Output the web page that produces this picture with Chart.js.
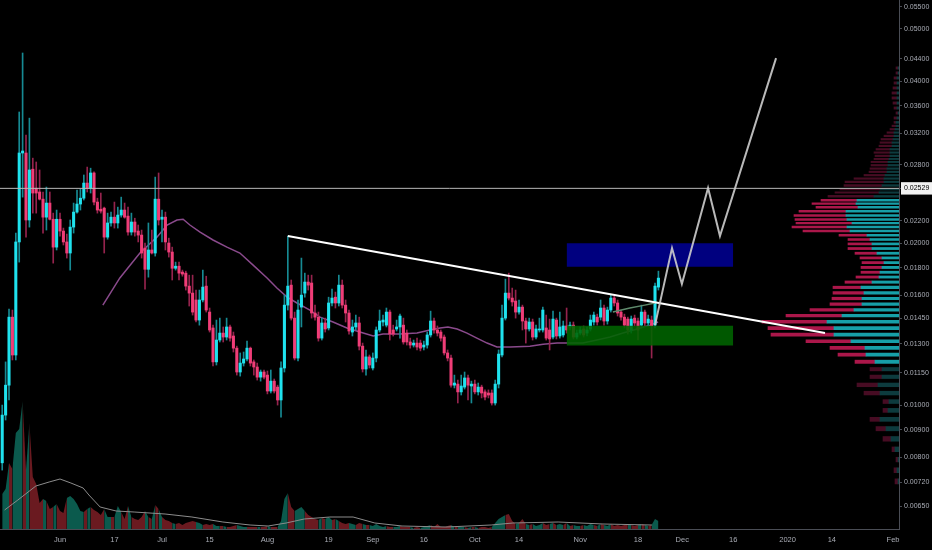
<!DOCTYPE html>
<html>
<head>
<meta charset="utf-8">
<script src="https://cdn.jsdelivr.net/npm/chart.js@4/dist/chart.umd.min.js"></script>
<style>
  html, body { margin: 0; padding: 0; background: #000; }
  #wrap { width: 932px; height: 550px; }
</style>
</head>
<body>
<div id="wrap"><canvas id="chart" width="932" height="550"></canvas></div>
<script>
const ctx = document.getElementById("chart");

// daily candles, first one on 2019-05-15
const firstCandleDate = '2019-05-15';
const opens = [
  0.00782,0.00959,0.01090,0.01458,0.01240,0.02011,0.02942,0.02942,0.02209,0.02745,
  0.02531,0.02490,0.02415,0.02236,0.02375,0.02216,0.01967,0.02216,0.02107,0.02011,
  0.01918,0.02143,0.02285,0.02365,0.02425,0.02587,0.02531,0.02701,0.02385,0.02313,
  0.02324,0.02053,0.02181,0.02236,0.02181,0.02256,0.02305,0.02246,0.02098,0.02190,
  0.02107,0.02071,0.01959,0.01789,0.01943,0.01918,0.02415,0.02216,0.02236,0.02002,
  0.01926,0.01797,0.01813,0.01768,0.01760,0.01665,0.01616,0.01569,0.01440,0.01569,
  0.01665,0.01490,0.01392,0.01204,0.01322,0.01362,0.01339,0.01398,0.01345,0.01277,
  0.01153,0.01198,0.01219,0.01277,0.01204,0.01178,0.01128,0.01153,0.01138,0.01063,
  0.01109,0.01081,0.01023,0.01173,0.01535,0.01672,0.01452,0.01224,0.01522,0.01616,
  0.01694,0.01687,0.01484,0.01458,0.01333,0.01422,0.01392,0.01549,0.01588,0.01549,
  0.01672,0.01535,0.01484,0.01368,0.01398,0.01422,0.01288,0.01168,0.01230,0.01173,
  0.01224,0.01380,0.01428,0.01409,0.01490,0.01380,0.01386,0.01398,0.01409,0.01362,
  0.01311,0.01294,0.01305,0.01305,0.01283,0.01294,0.01351,0.01434,0.01380,0.01368,
  0.01339,0.01251,0.01224,0.01090,0.01095,0.01059,0.01081,0.01124,0.01086,0.01095,
  0.01059,0.01081,0.01059,0.01054,0.01054,0.01010,0.01095,0.01240,0.01452,0.01616,
  0.01582,0.01562,0.01490,0.01522,0.01434,0.01386,0.01428,0.01339,0.01380,0.01380,
  0.01392,0.01380,0.01339,0.01440,0.01345,0.01351,0.01404,0.01398,0.01409,0.01339,
  0.01362,0.01386,0.01362,0.01386,0.01428,0.01458,0.01458,0.01516,0.01434,0.01503,
  0.01582,0.01549,0.01490,0.01458,0.01446,0.01380,0.01452,0.01434,0.01409,0.01490,
  0.01422,0.01440,0.01409,0.01658
];
const highs = [
  0.01001,0.01204,0.01509,0.01503,0.02089,0.03506,0.04512,0.03177,0.03415,0.02878,
  0.02831,0.02736,0.02490,0.02543,0.02490,0.02275,0.02305,0.02275,0.02134,0.02080,
  0.02209,0.02375,0.02511,0.02520,0.02678,0.02770,0.02757,0.02713,0.02425,0.02479,
  0.02334,0.02275,0.02285,0.02385,0.02334,0.02436,0.02375,0.02334,0.02275,0.02226,
  0.02162,0.02116,0.02002,0.02181,0.02116,0.02654,0.02701,0.02305,0.02285,0.02044,
  0.01967,0.01845,0.01845,0.01783,0.01775,0.01745,0.01745,0.01637,0.01637,0.01783,
  0.01737,0.01516,0.01409,0.01440,0.01452,0.01398,0.01452,0.01409,0.01368,0.01288,
  0.01251,0.01256,0.01316,0.01283,0.01214,0.01198,0.01163,0.01163,0.01158,0.01163,
  0.01119,0.01090,0.01204,0.01602,0.02062,0.01709,0.01490,0.01569,0.01877,0.01760,
  0.01745,0.01745,0.01535,0.01490,0.01452,0.01452,0.01588,0.01644,0.01623,0.01745,
  0.01709,0.01569,0.01503,0.01440,0.01471,0.01458,0.01305,0.01267,0.01240,0.01251,
  0.01398,0.01503,0.01471,0.01516,0.01503,0.01409,0.01440,0.01477,0.01452,0.01380,
  0.01333,0.01322,0.01333,0.01322,0.01316,0.01368,0.01496,0.01452,0.01404,0.01380,
  0.01351,0.01267,0.01240,0.01138,0.01114,0.01138,0.01153,0.01138,0.01109,0.01114,
  0.01100,0.01090,0.01068,0.01068,0.01068,0.01114,0.01267,0.01535,0.01716,0.01760,
  0.01651,0.01637,0.01569,0.01535,0.01452,0.01452,0.01446,0.01409,0.01452,0.01522,
  0.01471,0.01446,0.01496,0.01452,0.01490,0.01434,0.01516,0.01428,0.01428,0.01380,
  0.01398,0.01404,0.01398,0.01471,0.01490,0.01477,0.01569,0.01535,0.01522,0.01602,
  0.01595,0.01569,0.01503,0.01477,0.01458,0.01465,0.01471,0.01452,0.01535,0.01503,
  0.01471,0.01465,0.01687,0.01775
];
const lows = [
  0.00758,0.00939,0.01023,0.01214,0.01214,0.01845,0.02436,0.02053,0.02143,0.02275,
  0.02275,0.02406,0.02089,0.02116,0.02209,0.01837,0.01943,0.02062,0.01985,0.01877,
  0.01783,0.02089,0.02275,0.02305,0.02406,0.02490,0.02479,0.02355,0.02275,0.02275,
  0.01918,0.02035,0.02152,0.02134,0.02134,0.02236,0.02226,0.02071,0.02071,0.02062,
  0.02011,0.01877,0.01643,0.01730,0.01910,0.01893,0.02162,0.02011,0.01943,0.01885,
  0.01709,0.01783,0.01709,0.01737,0.01637,0.01529,0.01471,0.01428,0.01409,0.01556,
  0.01490,0.01368,0.01183,0.01188,0.01311,0.01311,0.01322,0.01316,0.01256,0.01138,
  0.01133,0.01183,0.01209,0.01183,0.01138,0.01114,0.01109,0.01119,0.01050,0.01054,
  0.01054,0.01001,0.00951,0.01153,0.01503,0.01440,0.01214,0.01209,0.01398,0.01588,
  0.01637,0.01452,0.01440,0.01316,0.01322,0.01368,0.01380,0.01529,0.01516,0.01529,
  0.01516,0.01428,0.01356,0.01345,0.01380,0.01267,0.01153,0.01138,0.01173,0.01163,
  0.01204,0.01368,0.01404,0.01398,0.01322,0.01345,0.01374,0.01333,0.01299,0.01294,
  0.01277,0.01283,0.01267,0.01262,0.01267,0.01277,0.01339,0.01362,0.01345,0.01316,
  0.01240,0.01209,0.01081,0.01077,0.01010,0.01045,0.01072,0.01023,0.01010,0.01050,
  0.01045,0.01032,0.01023,0.01032,0.01001,0.01001,0.01077,0.01230,0.01440,0.01569,
  0.01529,0.01452,0.01477,0.01380,0.01305,0.01374,0.01322,0.01328,0.01368,0.01368,
  0.01322,0.01267,0.01328,0.01328,0.01333,0.01339,0.01362,0.01380,0.01328,0.01328,
  0.01351,0.01339,0.01345,0.01374,0.01409,0.01409,0.01440,0.01409,0.01415,0.01490,
  0.01529,0.01465,0.01440,0.01392,0.01356,0.01362,0.01404,0.01322,0.01392,0.01404,
  0.01404,0.01224,0.01392,0.01637
];
const closes = [
  0.00959,0.01090,0.01458,0.01240,0.02011,0.02942,0.02967,0.02209,0.02736,0.02479,
  0.02479,0.02415,0.02236,0.02375,0.02216,0.01967,0.02216,0.02107,0.02011,0.01918,
  0.02143,0.02285,0.02365,0.02425,0.02587,0.02531,0.02701,0.02385,0.02305,0.02295,
  0.02053,0.02181,0.02236,0.02181,0.02256,0.02305,0.02236,0.02098,0.02190,0.02098,
  0.02071,0.01918,0.01789,0.01943,0.01918,0.02415,0.02209,0.02236,0.02011,0.01926,
  0.01797,0.01813,0.01760,0.01753,0.01665,0.01616,0.01490,0.01440,0.01569,0.01658,
  0.01503,0.01380,0.01204,0.01322,0.01362,0.01339,0.01398,0.01333,0.01277,0.01153,
  0.01198,0.01219,0.01277,0.01198,0.01178,0.01128,0.01153,0.01128,0.01063,0.01109,
  0.01063,0.01023,0.01173,0.01535,0.01665,0.01452,0.01224,0.01503,0.01602,0.01694,
  0.01672,0.01484,0.01458,0.01333,0.01422,0.01386,0.01549,0.01582,0.01549,0.01672,
  0.01535,0.01484,0.01374,0.01398,0.01422,0.01288,0.01168,0.01230,0.01188,0.01224,
  0.01380,0.01434,0.01440,0.01490,0.01356,0.01356,0.01398,0.01465,0.01311,0.01311,
  0.01294,0.01305,0.01283,0.01277,0.01294,0.01351,0.01434,0.01380,0.01362,0.01333,
  0.01251,0.01224,0.01090,0.01100,0.01059,0.01086,0.01124,0.01090,0.01095,0.01059,
  0.01081,0.01054,0.01036,0.01045,0.01010,0.01095,0.01245,0.01452,0.01616,0.01582,
  0.01556,0.01490,0.01522,0.01434,0.01386,0.01428,0.01339,0.01386,0.01386,0.01503,
  0.01333,0.01328,0.01446,0.01345,0.01398,0.01404,0.01380,0.01409,0.01339,0.01362,
  0.01380,0.01351,0.01380,0.01440,0.01471,0.01428,0.01516,0.01434,0.01503,0.01582,
  0.01549,0.01484,0.01458,0.01409,0.01380,0.01446,0.01422,0.01380,0.01490,0.01422,
  0.01446,0.01404,0.01665,0.01723
];
// volume in millions
const volumes = [
  3.5,4.0,6.6,6.0,9.6,10.0,12.8,5.9,10.6,5.2,
  4.5,2.6,3.0,2.8,2.0,2.2,2.5,1.8,1.6,3.1,
  3.3,3.0,2.5,1.8,1.7,2.0,2.2,1.9,1.7,1.4,
  2.0,1.2,1.2,1.2,2.3,1.7,1.0,2.3,1.2,1.0,
  0.9,1.2,1.8,1.2,1.0,2.4,2.0,1.2,0.9,0.8,
  0.6,0.5,0.6,0.4,0.6,0.7,0.8,0.7,0.6,0.4,
  0.5,0.4,0.5,0.3,0.3,0.3,0.2,0.2,0.3,0.4,
  0.3,0.2,0.2,0.2,0.2,0.2,0.2,0.2,0.3,0.2,
  0.2,0.2,0.8,3.0,3.6,2.2,1.8,2.0,2.2,1.8,
  1.4,1.2,1.0,0.9,1.1,1.0,1.2,0.9,1.0,0.8,
  0.6,0.5,0.6,0.5,0.4,0.6,0.5,0.4,0.4,0.3,
  0.5,0.3,0.2,0.3,0.2,0.2,0.2,0.3,0.2,0.2,
  0.2,0.1,0.2,0.1,0.2,0.3,0.4,0.2,0.5,0.2,
  0.2,0.3,0.4,0.2,0.3,0.2,0.2,0.1,0.2,0.2,
  0.1,0.2,0.2,0.1,0.2,0.6,1.0,1.2,1.4,1.5,
  0.8,0.5,0.6,1.0,0.5,0.4,0.5,0.3,0.4,0.6,
  0.4,0.5,0.6,0.4,0.5,0.4,0.6,0.3,0.4,0.3,
  0.3,0.4,0.3,0.5,0.4,0.3,0.5,0.4,0.3,0.5,
  0.3,0.4,0.3,0.4,0.5,0.4,0.3,0.4,0.5,0.4,
  0.3,0.4,1.0,0.8
];

// moving averages, sampled (days since 2019-06-01)
const maDays = [12.6,17.6,23.5,28.5,31.5,34.4,36.2,38.2,41.2,45,49.1,52.9,56.8,60.9,63.8,66.8,69.7,73.5,76.5,80.3,84.4,88.2,92.1,95,100,105,108.8,111.8,114.1,116.8,119.7,122.6,125.6,128.5,132.4,138.2,142.1,146.2,150,153.8,157.9,161.8,165.6,169.7,173.5,175.9];
const maValues = [0.01535,0.01724,0.01918,0.02053,0.02162,0.02209,0.02216,0.02162,0.02098,0.02028,0.01967,0.01918,0.01821,0.01724,0.01651,0.01588,0.01549,0.01503,0.01458,0.01428,0.01392,0.01368,0.01345,0.01356,0.01356,0.01362,0.01380,0.01392,0.01398,0.01386,0.01362,0.01333,0.01305,0.01283,0.01283,0.01288,0.01299,0.01305,0.01305,0.01305,0.01322,0.01339,0.01362,0.01386,0.01409,0.01428];
const fastMaDays = [162.6,167.6,172,175];
const fastMaValues = [0.01490,0.01516,0.01535,0.01549];
const volMaDays = [-16.3,-12.4,-7.1,-3.2,0,3.2,6.8,8.5,11.8,16.5,21.8,30.9,38.8,47.9,55.9,61.2,66.5,71.8,79.4,86.2,92.6,100.6,113.5,126.8,133.2,146.5,159.7,174.1];
const volMaValues = [1.9,2.9,4.3,4.7,5.0,4.6,4.1,3.4,2.2,1.8,1.7,1.5,1.2,0.7,0.4,0.3,0.6,1.0,1.2,1.2,0.6,0.3,0.2,0.4,0.6,0.7,0.5,0.4];

// visible range volume profile
const profPrices = [
  0.04254,0.04166,0.04076,0.03991,0.03905,0.03824,0.03742,0.03663,0.03584,0.03510,
  0.03435,0.03363,0.03316,0.03268,0.03222,0.03177,0.03131,0.03087,0.03044,0.02999,
  0.02958,0.02917,0.02875,0.02843,0.02803,0.02761,0.02724,0.02686,0.02646,0.02610,
  0.02573,0.02528,0.02493,0.02458,0.02411,0.02378,0.02344,0.02302,0.02263,0.02223,
  0.02187,0.02155,0.02116,0.02080,0.02041,0.02005,0.01965,0.01926,0.01887,0.01851,
  0.01813,0.01775,0.01740,0.01704,0.01665,0.01628,0.01588,0.01551,0.01513,0.01477,
  0.01440,0.01401,0.01362,0.01325,0.01288,0.01251,0.01215,0.01176,0.01140,0.01101,
  0.01063,0.01026,0.00988,0.00951,0.00915,0.00877,0.00837,0.00802,0.00767,0.00731
];
const profUp = [
  1,1,2,2,2,2,2,2,2,1, 2,3,3,4,5,5,6,7,7,9, 9,9,10,11,11,12,12,14,15,15, 17,19,20,25,
  42,43,41,53,53,52,47,52,49,32,29,27,27,22,17,15,17,19,20,27,38,35,37,37,45,57,72,65,65,48,34,33,24,
  17,17,21,19,10,11,19,13,8,4,1,2,1
];
const profDown = [
  2,2,3,3,4,5,5,4,3,2, 3,2,4,5,7,10,12,12,13,14, 16,15,15,17,17,17,18,21,30,39, 38,40,44,46,
  36,44,42,47,52,52,56,55,47,28,22,24,24,22,22,22,21,19,23,27,28,31,30,32,44,56,65,66,63,45,35,28,20,
  12,12,21,16,6,5,10,10,8,3,2,3,3
];
const valueArea = [0.0121, 0.0242];

const yTicks = [0.055,0.05,0.044,0.04,0.036,0.032,0.028,0.02529,0.022,0.02,0.018,0.016,0.0145,0.013,0.0115,0.01,0.009,0.008,0.0072,0.0065];
const xTickDates = ['2019-06-01','2019-06-17','2019-07-01','2019-07-15','2019-08-01','2019-08-19','2019-09-01','2019-09-16','2019-10-01','2019-10-14','2019-11-01','2019-11-18','2019-12-01','2019-12-16','2020-01-01','2020-01-14','2020-02-01'];
const xTickLabels = ['Jun','17','Jul','15','Aug','19','Sep','16','Oct','14','Nov','18','Dec','16','2020','14','Feb'];

// drawings
const hLevel = 0.02529;
const trendDays = [67, 225];
const trendPrices = [0.02062, 0.01362];
const zoneDates = ['2019-10-28', '2019-12-16'];
const blueZone = [0.01808, 0.02000];
const greenZone = [0.01292, 0.01405];
const pathDays = [175, 180, 182.9, 190.6, 194.1, 210.6];
const pathPrices = [0.01409, 0.01959, 0.01680, 0.02533, 0.02062, 0.04414];

const FONT = "'Liberation Sans', Arial, sans-serif";
const TEXT = '#a9acb5';
const UP = '#1fe2ee', DOWN = '#f03d77';
const UP_WICK = '#168a93', DOWN_WICK = '#95234d';
const VOL_UP = '#0b5a4d', VOL_DOWN = '#6a1a20';

function dayOf(s) {
    const p = s.split('-').map(Number);
    return (Date.UTC(p[0], p[1] - 1, p[2]) - Date.UTC(2019, 5, 1)) / 86400000;
}

const start = dayOf(firstCandleDate);
const days = opens.map((o, i) => start + i);
const isUp = opens.map((o, i) => closes[i] >= o);
const X_MIN = -17.65, X_MAX = 246.76;

function pts(xs, ys) { return xs.map((x, i) => ({x: x, y: ys[i]})); }
function flat(x0, x1, y) { return [{x: x0, y: y}, {x: x1, y: y}]; }
const inVA = p => p >= valueArea[0] && p <= valueArea[1];

const z0 = dayOf(zoneDates[0]), z1 = dayOf(zoneDates[1]);
const lineBase = {type: 'line', xAxisID: 'x', yAxisID: 'y', pointRadius: 0, tension: 0, fill: false};

const datasets = [
    // projection path
    Object.assign({}, lineBase, {data: pts(pathDays, pathPrices), borderColor: 'rgba(205,205,205,0.9)', borderWidth: 2, order: 0}),
    Object.assign({}, lineBase, {data: pts(trendDays, trendPrices), borderColor: '#ffffff', borderWidth: 2, order: 1}),
    Object.assign({}, lineBase, {data: flat(X_MIN - 5, X_MAX + 5, hLevel), borderColor: '#b8b8b8', borderWidth: 1, order: 2}),
    // zones
    Object.assign({}, lineBase, {data: flat(z0, z1, blueZone[1]), fill: '+1', backgroundColor: '#00007f', borderColor: 'transparent', borderWidth: 0, order: 3}),
    Object.assign({}, lineBase, {data: flat(z0, z1, blueZone[0]), borderColor: 'transparent', borderWidth: 0, order: 3}),
    Object.assign({}, lineBase, {data: flat(z0, z1, greenZone[1]), fill: '+1', backgroundColor: 'rgba(0,100,0,0.88)', borderColor: 'transparent', borderWidth: 0, order: 3}),
    Object.assign({}, lineBase, {data: flat(z0, z1, greenZone[0]), borderColor: 'transparent', borderWidth: 0, order: 3}),
    Object.assign({}, lineBase, {data: pts(fastMaDays, fastMaValues), borderColor: '#5f8a6c', borderWidth: 1.5, order: 4}),
    // candles
    {
        type: 'bar', xAxisID: 'x', yAxisID: 'y', grouped: false, barThickness: 2.4, minBarLength: 1,
        data: days.map((d, i) => ({x: d, y: [opens[i], closes[i]]})),
        backgroundColor: isUp.map(u => u ? UP : DOWN), order: 5
    },
    {
        type: 'bar', xAxisID: 'x', yAxisID: 'y', grouped: false, barThickness: 1,
        data: days.map((d, i) => ({x: d, y: [lows[i], highs[i]]})),
        backgroundColor: isUp.map(u => u ? UP_WICK : DOWN_WICK), order: 6
    },
    Object.assign({}, lineBase, {data: pts(maDays, maValues), borderColor: '#8a4a8c', borderWidth: 1.5, order: 7}),
    // volume profile
    {
        type: 'bar', indexAxis: 'y', xAxisID: 'xv', yAxisID: 'y', stack: 'vp',
        barThickness: 'flex', categoryPercentage: 1, barPercentage: 0.9,
        data: profPrices.map((p, i) => ({x: profUp[i], y: p})),
        backgroundColor: profPrices.map(p => inVA(p) ? '#179fa8' : '#0d3b3e'), order: 8
    },
    {
        type: 'bar', indexAxis: 'y', xAxisID: 'xv', yAxisID: 'y', stack: 'vp',
        barThickness: 'flex', categoryPercentage: 1, barPercentage: 0.9,
        data: profPrices.map((p, i) => ({x: profDown[i], y: p})),
        backgroundColor: profPrices.map(p => inVA(p) ? '#ab174a' : '#470c23'), order: 8
    },
    // volume
    Object.assign({}, lineBase, {yAxisID: 'yv', data: pts(volMaDays, volMaValues), borderColor: '#8c8c8c', borderWidth: 1, order: 9}),
    Object.assign({}, lineBase, {
        yAxisID: 'yv', data: pts(days, volumes), fill: 'origin', borderColor: 'transparent', borderWidth: 0,
        backgroundColor: VOL_UP,
        segment: {backgroundColor: c => isUp[c.p1DataIndex] ? VOL_UP : VOL_DOWN},
        order: 10
    })
];

const config = {
    type: 'bar',
    data: {datasets: datasets},
    options: {
        responsive: false,
        animation: false,
        events: [],
        layout: {autoPadding: false, padding: 0},
        plugins: {legend: {display: false}, tooltip: {enabled: false}},
        scales: {
            x: {
                type: 'linear', position: 'bottom', min: X_MIN, max: X_MAX, offset: false,
                grid: {display: false, drawTicks: false, offset: false},
                border: {display: true, color: '#4a4d55'},
                afterBuildTicks: s => { s.ticks = xTickDates.map(d => ({value: dayOf(d)})); },
                afterFit: s => { s.height = 21; s.paddingLeft = 0; s.paddingRight = 0; },
                ticks: {
                    autoSkip: false, maxRotation: 0, minRotation: 0, padding: 6, color: TEXT,
                    font: {family: FONT, size: 7.5},
                    callback: (v, i) => xTickLabels[i]
                }
            },
            y: {
                type: 'logarithmic', position: 'right', min: 0.005892, max: 0.0566, offset: false, beginAtZero: false,
                grid: {drawOnChartArea: false, drawTicks: true, tickLength: 3, color: '#4a4d55', offset: false},
                border: {display: true, color: '#4a4d55'},
                afterBuildTicks: s => { s.ticks = yTicks.map(v => ({value: v})); },
                afterFit: s => { s.width = 33; s.paddingTop = 0; s.paddingBottom = 0; },
                ticks: {
                    autoSkip: false, padding: 2,
                    font: {family: FONT, size: 7},
                    color: c => (c.tick && c.tick.value === hLevel) ? '#000000' : TEXT,
                    showLabelBackdrop: c => !!(c.tick && c.tick.value === hLevel),
                    backdropColor: '#f2f2f2',
                    backdropPadding: {top: 2, bottom: 2, left: 3, right: 4},
                    callback: v => Number(v).toFixed(5)
                }
            },
            yv: {type: 'linear', display: false, min: 0, max: 52.9, offset: false},
            xv: {type: 'linear', display: false, min: 0, max: 899, reverse: true, stacked: true, offset: false, grid: {offset: false}}
        }
    }
};

const chart = new Chart(ctx, config);
</script>
</body>
</html>
